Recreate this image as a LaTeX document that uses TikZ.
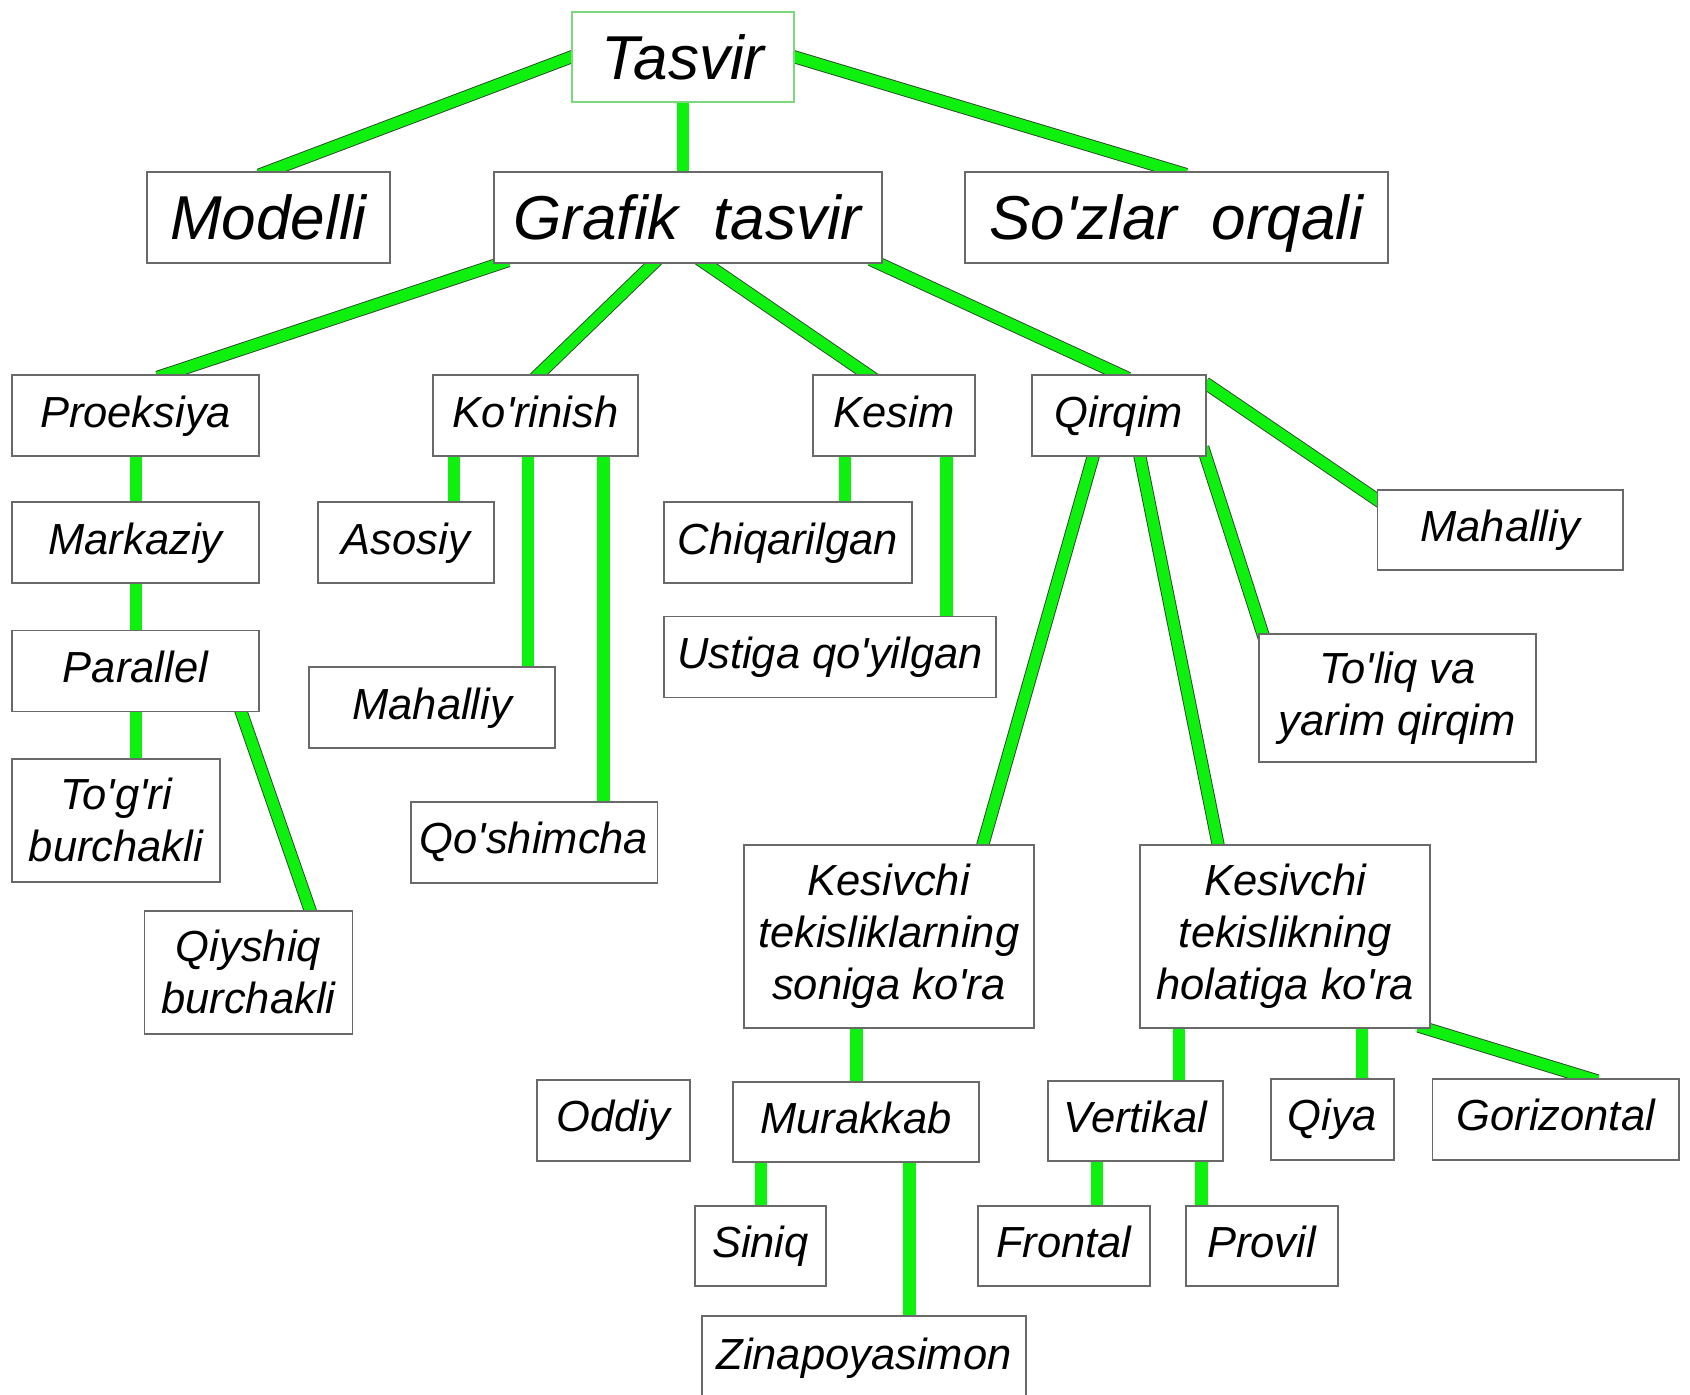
\documentclass[tikz,border=0pt]{standalone}
\usepackage{fontspec}
\setmainfont{Liberation Sans}[Ligatures=TeXOff]
\usetikzlibrary{backgrounds}
\definecolor{barGreen}{RGB}{14,240,14}
\definecolor{boxGray}{RGB}{105,105,105}
\definecolor{topGreen}{RGB}{125,215,125}
\definecolor{edgeDark}{RGB}{40,70,40}
\tikzset{
  boxbase/.style={draw=boxGray, line width=0.9pt, fill=white, inner sep=0pt,
    font=\fontsize{21.75}{26}\selectfont\itshape},
  box/.style={boxbase, align=center},
  sbox/.style={boxbase, text height=15.66pt, text depth=4.13pt},
  bigbox/.style={boxbase, font=\fontsize{31}{37}\selectfont\itshape, text height=22.3pt, text depth=0pt},
  vbar/.style={draw=barGreen, line width=6.3pt, shorten <=-5pt, shorten >=-5pt},
  dbar/.style={draw=edgeDark, line width=0.45pt, double=barGreen, double distance=5.6pt,
    shorten <=-5pt, shorten >=-5pt},
}
\begin{document}
\begin{tikzpicture}[x=0.5pt, y=-0.5pt]
\useasboundingbox (0,0) rectangle (1690,1395);

% level 0 / 1
\node[bigbox, draw=topGreen, minimum width=111pt, minimum height=45pt] (tasvir) at (683,57) {Tasvir};
\node[bigbox, minimum width=121.8pt, minimum height=45.3pt] (modelli) at (268.4,217.7) {Modelli};
\node[bigbox, minimum width=194pt, minimum height=45.3pt] (grafik) at (687.6,217.7) {Grafik~ tasvir};
\node[bigbox, minimum width=211.8pt, minimum height=45.3pt] (sozlar) at (1176.4,217.7) {So'zlar~ orqali};

% level 2
\node[sbox, minimum width=123.5pt, minimum height=40.5pt] (proeksiya) at (135.5,415.5) {Proeksiya};
\node[sbox, minimum width=102.4pt, minimum height=40.5pt] (korinish) at (535.7,415.5) {Ko'rinish};
\node[sbox, minimum width=81.35pt, minimum height=40.5pt] (kesim) at (894,415.5) {Kesim};
\node[sbox, minimum width=87pt, minimum height=40.5pt] (qirqim) at (1119,415.5) {Qirqim};

% Proeksiya branch
\node[sbox, minimum width=123.5pt, minimum height=40.5pt] (markaziy) at (135.5,542.7) {Markaziy};
\node[sbox, minimum width=123.5pt, minimum height=40.5pt] (parallel) at (135.5,671) {Parallel};
\node[box, minimum width=104pt, minimum height=61.4pt] (togri) at (115.9,820.2) {To'g'ri\\burchakli};
\node[box, minimum width=104pt, minimum height=61.4pt] (qiyshiq) at (248.4,972.2) {Qiyshiq\\burchakli};

% Ko'rinish branch
\node[sbox, minimum width=87.85pt, minimum height=40.5pt] (asosiy) at (405.8,542.7) {Asosiy};
\node[sbox, minimum width=122.9pt, minimum height=40.5pt] (mahalliyL) at (432.2,707.6) {Mahalliy};
\node[sbox, minimum width=123.4pt, minimum height=40.5pt] (qoshimcha) at (534,842.3) {Qo'shimcha};

% Kesim branch
\node[sbox, minimum width=124pt, minimum height=40.5pt] (chiqarilgan) at (787.9,542.7) {Chiqarilgan};
\node[sbox, minimum width=166pt, minimum height=40.5pt] (ustiga) at (829.9,657) {Ustiga qo'yilgan};

% Qirqim branch
\node[sbox, minimum width=122.9pt, minimum height=40pt] (mahalliyR) at (1500.3,530.3) {Mahalliy};
\node[box, minimum width=138.5pt, minimum height=64.1pt] (toliq) at (1397.4,697.9) {To'liq va\\yarim qirqim};
\node[box, minimum width=145pt, minimum height=91.6pt] (k1) at (888.7,936.6) {Kesivchi\\tekisliklarning\\soniga ko'ra};
\node[box, minimum width=145pt, minimum height=91.6pt] (k2) at (1285.3,936.6) {Kesivchi\\tekislikning\\holatiga ko'ra};

\node[sbox, minimum width=76.5pt, minimum height=40.5pt] (oddiy) at (613.3,1120.4) {Oddiy};
\node[sbox, minimum width=123pt, minimum height=40pt] (murakkab) at (856,1122) {Murakkab};
\node[sbox, minimum width=65.2pt, minimum height=40pt] (siniq) at (760.4,1246) {Siniq};
\node[sbox, minimum width=162pt, minimum height=42pt] (zina) at (864,1358) {Zinapoyasimon};

\node[sbox, minimum width=87.85pt, minimum height=40pt] (vertikal) at (1135.5,1121) {Vertikal};
\node[sbox, minimum width=61.5pt, minimum height=40.5pt] (qiya) at (1332.2,1119.3) {Qiya};
\node[sbox, minimum width=123.4pt, minimum height=40.5pt] (gorizontal) at (1555.8,1119.3) {Gorizontal};
\node[sbox, minimum width=86.2pt, minimum height=40pt] (frontal) at (1063.8,1246) {Frontal};
\node[sbox, minimum width=76pt, minimum height=40pt] (provil) at (1261.6,1246) {Provil};

\begin{scope}[on background layer]
\fill[white] (0,0) rectangle (1690,1395);
% diagonal connectors
\draw[dbar] (modelli.north) -- (tasvir.west);
\draw[dbar] (tasvir.east) -- (sozlar.north);
\draw[dbar] ([xshift=3pt]grafik.south west) -- ([xshift=15.75pt]proeksiya.north);
\draw[dbar] ([xshift=-17.3pt]grafik.south) -- ([xshift=1.65pt]korinish.north);
\draw[dbar] ([xshift=9.2pt]grafik.south) -- ([xshift=-13.5pt]kesim.north);
\draw[dbar] ([xshift=-1.3pt]grafik.south east) -- (qirqim.north);
\draw[dbar, shorten <=-1pt] ([yshift=-5pt]qirqim.north east) -- ([yshift=-5pt]mahalliyR.north west);
\draw[dbar] ([xshift=-0.5pt]qirqim.south east) -- ([xshift=4pt,yshift=-5.5pt]toliq.north west);
\draw[dbar] ([xshift=-13pt]qirqim.south) -- ([xshift=47.15pt]k1.north);
\draw[dbar] ([xshift=10.5pt]qirqim.south) -- ([xshift=-33.65pt]k2.north);
\draw[dbar] ([xshift=-9.25pt]parallel.south east) -- ([xshift=30.8pt]qiyshiq.north);
\draw[dbar] ([xshift=-1.6pt]k2.south east) -- ([xshift=16pt]gorizontal.north);
% vertical connectors
\draw[vbar] (tasvir.south) -- (tasvir.south |- grafik.north);
\draw[vbar] (136,0 |- proeksiya.south) -- (136,0 |- markaziy.north);
\draw[vbar] (136,0 |- markaziy.south) -- (136,0 |- parallel.north);
\draw[vbar] (136,0 |- parallel.south) -- (136,0 |- togri.north);
\draw[vbar] (454,0 |- korinish.south) -- (454,0 |- asosiy.north);
\draw[vbar] (528,0 |- korinish.south) -- (528,0 |- mahalliyL.north);
\draw[vbar] (603.6,0 |- korinish.south) -- (603.6,0 |- qoshimcha.north);
\draw[vbar] (845,0 |- kesim.south) -- (845,0 |- chiqarilgan.north);
\draw[vbar] (946.5,0 |- kesim.south) -- (946.5,0 |- ustiga.north);
\draw[vbar] (856.5,0 |- k1.south) -- (856.5,0 |- murakkab.north);
\draw[vbar] (761,0 |- murakkab.south) -- (761,0 |- siniq.north);
\draw[vbar] (909.5,0 |- murakkab.south) -- (909.5,0 |- zina.north);
\draw[vbar] (1179,0 |- k2.south) -- (1179,0 |- vertikal.north);
\draw[vbar] (1362,0 |- k2.south) -- (1362,0 |- qiya.north);
\draw[vbar] (1097,0 |- vertikal.south) -- (1097,0 |- frontal.north);
\draw[vbar] (1201.7,0 |- vertikal.south) -- (1201.7,0 |- provil.north);
\end{scope}
\end{tikzpicture}
\end{document}
